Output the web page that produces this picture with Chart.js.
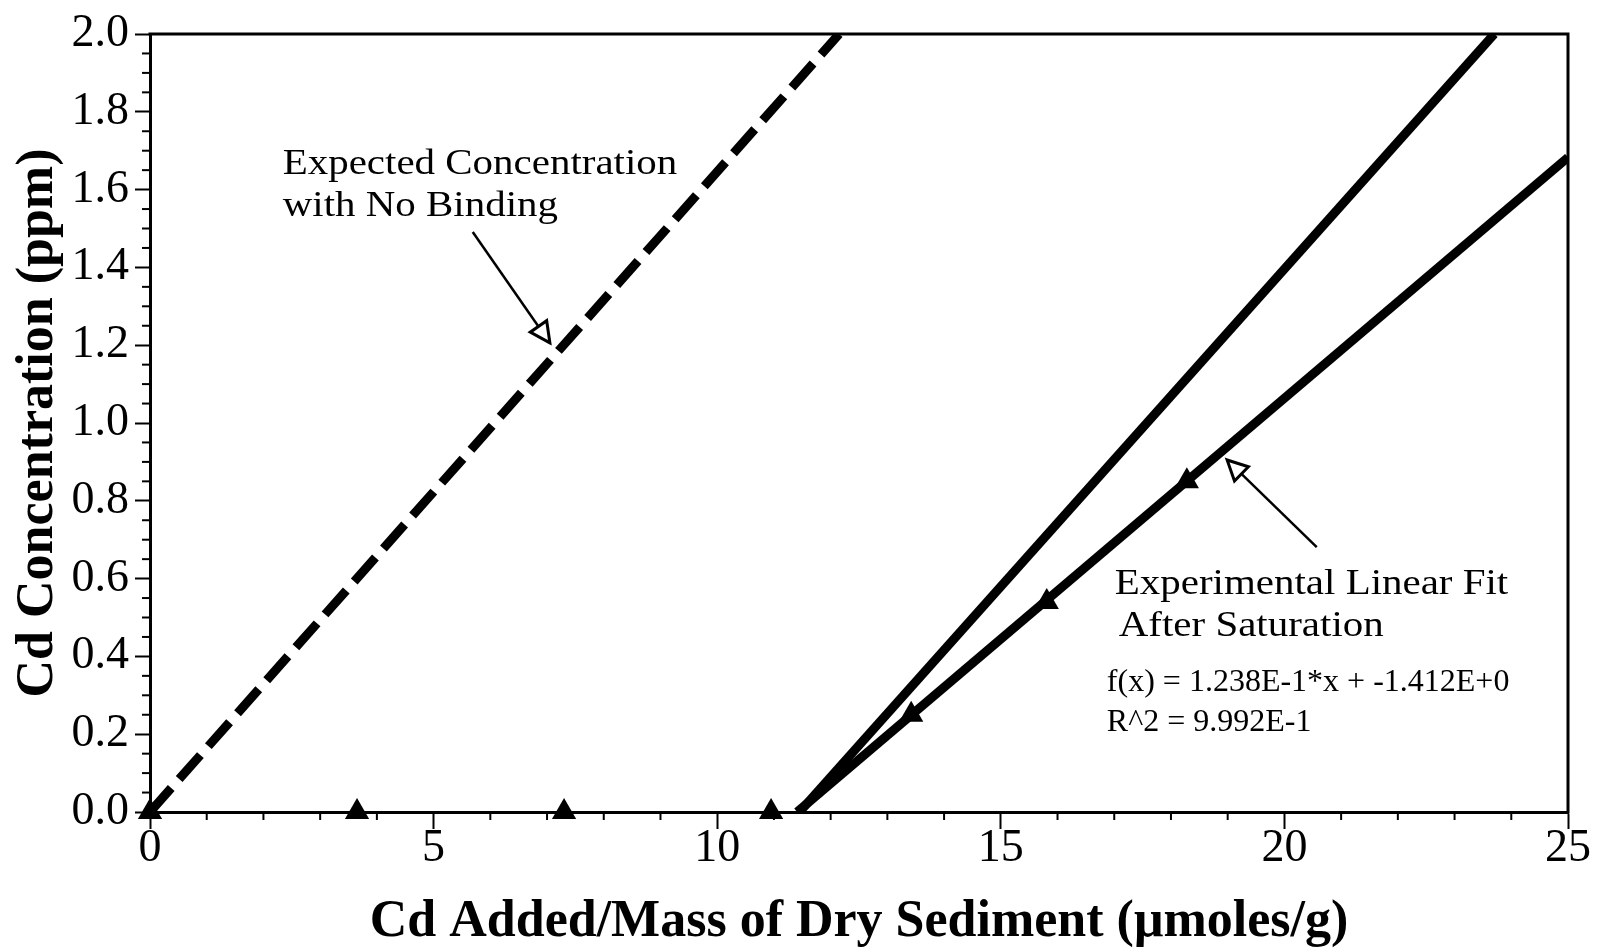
<!DOCTYPE html>
<html>
<head>
<meta charset="utf-8">
<script src="https://cdn.jsdelivr.net/npm/chart.js@4.4.1/dist/chart.umd.min.js"></script>
<style>
html,body{margin:0;padding:0;background:#fff;}
canvas{display:block;}
</style>
</head>
<body>
<canvas id="c" width="1600" height="951"></canvas>
<script>
// ---- data ----
const measuredX = [0, 3.65, 7.30, 10.95, 13.42, 15.81, 18.28];
const measuredY = [0, 0, 0, 0, 0.25, 0.54, 0.85];

const expectedX = [0, 12.15];
const expectedY = [0, 2.0];

const steepX = [11.45, 23.7];
const steepY = [0, 2.0];

const fitX = [11.41, 25];
const fitY = [0, 1.683];

const xTickStep = 5;
const yTickStep = 0.2;
const xRange = [0, 25];
const yRange = [0, 2.0];

const xAxisTitle = 'Cd Added/Mass of Dry Sediment (\u03BCmoles/g)';
const yAxisTitle = 'Cd Concentration (ppm)';

// annotation text (data units: left x, baseline y)
const noteTexts = [
  {text: 'Expected Concentration', x: 2.34, y: 1.640, group: 'pal'},
  {text: 'with No Binding', x: 2.34, y: 1.532, group: 'pal'},
  {text: 'Experimental Linear Fit', x: 17.01, y: 0.560, group: 'pal'},
  {text: 'After Saturation', x: 17.08, y: 0.452, group: 'pal'},
  {text: 'f(x) = 1.238E-1*x + -1.412E+0', x: 16.87, y: 0.311, group: 'eq'},
  {text: 'R^2 = 9.992E-1', x: 16.87, y: 0.208, group: 'eq'}
];
const noteArrows = [
  {from: [5.69, 1.491], to: [7.05, 1.206]},
  {from: [20.57, 0.681], to: [18.99, 0.905]}
];

const pts = (xs, ys) => xs.map((v, i) => ({x: v, y: ys[i]}));
const SERIF = "'Liberation Serif', 'Times New Roman', serif";

const decor = {
  id: 'decor',
  beforeDraw(chart) {
    const c = chart.ctx;
    c.save();
    c.fillStyle = '#fff';
    c.fillRect(0, 0, chart.width, chart.height);
    c.restore();
  },
  afterDraw(chart) {
    const {ctx, chartArea: a, scales: {x, y}} = chart;
    ctx.save();
    ctx.strokeStyle = '#000';
    ctx.lineCap = 'butt';
    // top + right frame
    ctx.lineWidth = 3;
    ctx.beginPath();
    ctx.moveTo(a.left - 1.5, a.top);
    ctx.lineTo(a.right, a.top);
    ctx.lineTo(a.right, a.bottom + 1.5);
    ctx.stroke();
    // minor ticks
    ctx.lineWidth = 2;
    for (let i = 1; i < 40; i++) {
      if (i % 4 === 0) continue;
      const py = y.getPixelForValue(i * 0.05);
      ctx.beginPath(); ctx.moveTo(a.left - 8, py); ctx.lineTo(a.left, py); ctx.stroke();
    }
    for (let i = 1; i < 25; i++) {
      if (i % 5 === 0) continue;
      const px = x.getPixelForValue(i);
      ctx.beginPath(); ctx.moveTo(px, a.bottom); ctx.lineTo(px, a.bottom + 8); ctx.stroke();
    }
    // arrows
    noteArrows.forEach(ar => {
      const x0 = x.getPixelForValue(ar.from[0]), y0 = y.getPixelForValue(ar.from[1]);
      const x1 = x.getPixelForValue(ar.to[0]), y1 = y.getPixelForValue(ar.to[1]);
      const ang = Math.atan2(y1 - y0, x1 - x0);
      const hl = 20, hw = 10;
      const bx = x1 - hl * Math.cos(ang), by = y1 - hl * Math.sin(ang);
      ctx.lineWidth = 2.5;
      ctx.beginPath(); ctx.moveTo(x0, y0); ctx.lineTo(bx, by); ctx.stroke();
      const nx = -Math.sin(ang), ny = Math.cos(ang);
      ctx.beginPath();
      ctx.moveTo(x1, y1);
      ctx.lineTo(bx + nx * hw, by + ny * hw);
      ctx.lineTo(bx - nx * hw, by - ny * hw);
      ctx.closePath();
      ctx.fillStyle = '#fff';
      ctx.fill();
      ctx.lineWidth = 3;
      ctx.stroke();
    });
    // texts
    ctx.fillStyle = '#000';
    ctx.textBaseline = 'alphabetic';
    ctx.textAlign = 'left';
    noteTexts.forEach(t => {
      const px = x.getPixelForValue(t.x), py = y.getPixelForValue(t.y);
      ctx.save();
      ctx.translate(px, py);
      if (t.group === 'pal') {
        ctx.font = '35px ' + SERIF;
        ctx.scale(1.17, 1);
      } else {
        ctx.font = '32px ' + SERIF;
      }
      ctx.fillText(t.text, 0, 0);
      ctx.restore();
    });
    ctx.restore();
  }
};

new Chart(document.getElementById('c'), {
  type: 'scatter',
  data: {
    datasets: [
      {
        label: 'Measured',
        data: pts(measuredX, measuredY),
        pointStyle: 'triangle',
        pointRadius: 14,
        pointBackgroundColor: '#000',
        pointBorderColor: '#000',
        pointBorderWidth: 0,
        showLine: false,
        clip: false
      },
      {
        label: 'Linear fit',
        data: pts(fitX, fitY),
        showLine: true,
        borderColor: '#000',
        borderWidth: 9,
        pointRadius: 0
      },
      {
        label: 'Shifted',
        data: pts(steepX, steepY),
        showLine: true,
        borderColor: '#000',
        borderWidth: 9,
        pointRadius: 0
      },
      {
        label: 'Expected',
        data: pts(expectedX, expectedY),
        showLine: true,
        borderColor: '#000',
        borderWidth: 9,
        borderDash: [32, 12],
        borderCapStyle: 'butt',
        pointRadius: 0
      }
    ]
  },
  options: {
    responsive: false,
    animation: false,
    devicePixelRatio: 1,
    layout: {padding: {top: 34, right: 32, left: 0, bottom: 0}},
    plugins: {legend: {display: false}, tooltip: {enabled: false}},
    scales: {
      x: {
        type: 'linear',
        min: xRange[0], max: xRange[1],
        ticks: {stepSize: xTickStep, color: '#000', font: {family: SERIF, size: 46}, padding: -8, maxRotation: 0},
        grid: {display: true, drawOnChartArea: false, tickLength: 17, tickWidth: 2, tickColor: '#000'},
        border: {display: true, width: 3, color: '#000'},
        title: {display: true, text: xAxisTitle, color: '#000', font: {family: SERIF, size: 52, weight: 'bold', lineHeight: 1.0}, padding: {top: 0, bottom: 2}},
        afterFit: s => { s.height = 139; }
      },
      y: {
        type: 'linear',
        min: yRange[0], max: yRange[1],
        ticks: {stepSize: yTickStep, color: '#000', font: {family: SERIF, size: 46}, padding: 6, callback: v => Number(v).toFixed(1)},
        grid: {display: true, drawOnChartArea: false, tickLength: 15, tickWidth: 2, tickColor: '#000'},
        border: {display: true, width: 3, color: '#000'},
        title: {display: true, text: yAxisTitle, color: '#000', font: {family: SERIF, size: 52, weight: 'bold', lineHeight: 1.0}, padding: {top: 13, bottom: 0}},
        afterFit: s => { s.width = 150; }
      }
    }
  },
  plugins: [decor]
});
</script>
</body>
</html>
